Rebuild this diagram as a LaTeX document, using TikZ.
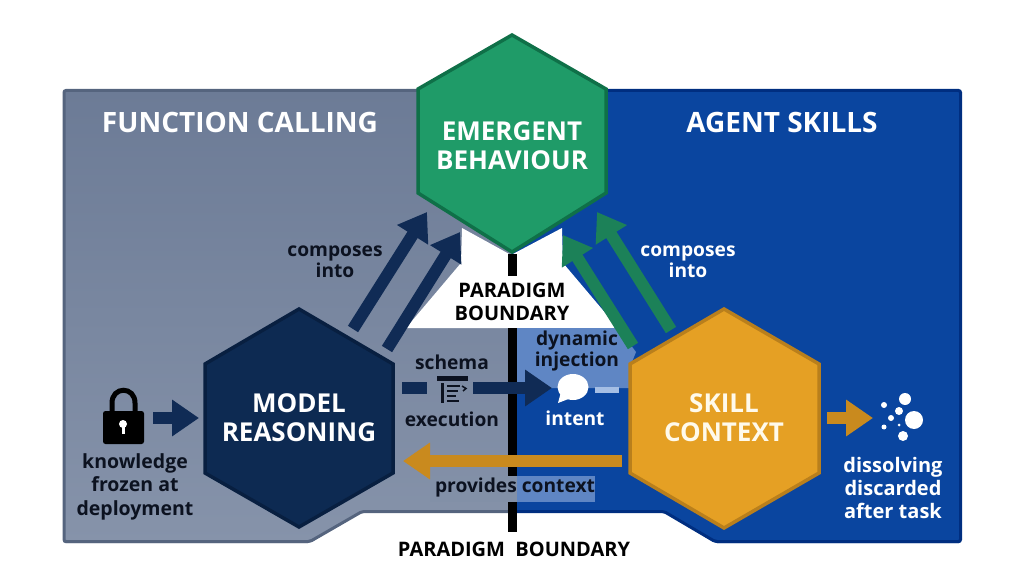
\documentclass[tikz,border=0pt]{standalone}
\usepackage{fontspec}
\setmainfont{Open Sans}
\usetikzlibrary{arrows.meta}
\definecolor{navy}{HTML}{102B55}
\definecolor{navyhex}{HTML}{0D2A52}
\definecolor{navyedge}{HTML}{081F40}
\definecolor{greytop}{HTML}{6C7B96}
\definecolor{greybot}{HTML}{8693AA}
\definecolor{greyback}{HTML}{8290A7}
\definecolor{greyedge}{HTML}{55647E}
\definecolor{bluefill}{HTML}{0A459F}
\definecolor{blueedge}{HTML}{002E80}
\definecolor{lightblue}{HTML}{5F86C4}
\definecolor{paleblue}{HTML}{A5BEE4}
\definecolor{greenfill}{HTML}{1F9B68}
\definecolor{greenedge}{HTML}{0F7048}
\definecolor{greenarrow}{HTML}{1C8158}
\definecolor{goldfill}{HTML}{E5A024}
\definecolor{goldedge}{HTML}{B97F1C}
\definecolor{goldarrow}{HTML}{C98A1E}
\definecolor{inkc}{HTML}{0C1220}
\definecolor{cream}{HTML}{FFFAEB}
\tikzset{
  flow/.style={line width=12pt,-{Triangle[width=35pt,length=27pt]}},
  lbl/.style={font=\bfseries\fontsize{19.2}{21}\selectfont,align=center,text=inkc,inner sep=0pt},
  lblw/.style={lbl,text=white},
  hextext/.style={font=\bfseries\fontsize{26}{28}\selectfont,align=center,text=white,inner sep=0pt},
  headtext/.style={font=\bfseries\fontsize{28}{30}\selectfont,text=white,inner sep=0pt},
  bound/.style={font=\bfseries\fontsize{20}{23}\selectfont,align=center,text=black,inner sep=0pt},
  hexedge/.style={line width=3.5pt,line join=miter},
}
\begin{document}
\begin{tikzpicture}[x=1pt,y=-1pt]
\useasboundingbox (0,0) rectangle (1024,572);
% panels
\path[top color=greytop,bottom color=greybot,rounded corners=2pt]
  (63,90) -- (512,90) -- (512,512) -- (362,512) -- (310,543) -- (63,543) -- cycle;
\draw[greyedge,line width=3pt,rounded corners=2pt] (512,90.5) -- (64,90.5) -- (64,541.5) -- (310,541.5) -- (362,511.5) -- (512,511.5);
\path[fill=bluefill,rounded corners=2pt] (512,90) -- (961,90) -- (961,543) -- (715,543) -- (664,512) -- (512,512) -- cycle;
\draw[blueedge,line width=3pt,rounded corners=2pt] (512,90.5) -- (960.5,90.5) -- (960.5,541.5) -- (715,541.5) -- (664,511.5) -- (512,511.5);
% white gap and highlighted regions
\fill[white] (462,228) -- (511,255) -- (562,228) -- (563,263) -- (618,328) -- (406,328) -- (461,263) -- cycle;
\fill[lightblue] (512,328) -- (618,328) -- (636,352) -- (632,362) -- (632,388) -- (512,388) -- cycle;
% boundary line
\coordinate (bt) at (512.5,254);
\coordinate (bm1) at (512.5,276);
\coordinate (bm2) at (512.5,328);
\coordinate (bb) at (512.5,532);
\draw[black,line width=9pt] (bt) -- (bm1);
\draw[black,line width=9pt] (bm2) -- (bb);
% provides-context backing
\fill[greyback] (430,476) rectangle (517,502);
\fill[lightblue] (517,476) rectangle (595,502);
% free ends of the connectors
\coordinate (lockout) at (153,418);
\coordinate (mrin) at (199,418);
\coordinate (ca1s) at (353,329);
\coordinate (ca1e) at (427,212);
\coordinate (ca2s) at (387,349);
\coordinate (ca2e) at (460,232);
\coordinate (cb1s) at (633,346);
\coordinate (cb1e) at (563,235);
\coordinate (cb2s) at (671,330);
\coordinate (cb2e) at (597,212);
\coordinate (sd1) at (402,388);
\coordinate (sd2) at (427,388);
\coordinate (sd3) at (473,388);
\coordinate (sd4) at (552,388);
\coordinate (dj1) at (595,390);
\coordinate (dj2) at (619,390);
\coordinate (pc1) at (622,461);
\coordinate (pc2) at (403,461);
\coordinate (dd1) at (827,418);
\coordinate (dd2) at (873,418);
% connectors
\draw[flow,navy] (lockout) -- (mrin);
\draw[flow,navy] (ca1s) -- (ca1e);
\draw[flow,navy] (ca2s) -- (ca2e);
\draw[flow,greenarrow] (cb1s) -- (cb1e);
\draw[flow,greenarrow] (cb2s) -- (cb2e);
\draw[navy,line width=12pt] (sd1) -- (sd2);
\draw[flow,navy] (sd3) -- (sd4);
\draw[paleblue,line width=6pt] (dj1) -- (dj2);
\draw[flow,goldarrow] (pc1) -- (pc2);
\draw[flow,goldarrow] (dd1) -- (dd2);
% hexagons
\filldraw[hexedge,fill=greenfill,draw=greenedge] (512,35) -- (606,89) -- (606,193) -- (512,252) -- (418,193) -- (418,89) -- cycle;
\filldraw[hexedge,fill=navyhex,draw=navyedge] (299,309) -- (393,364) -- (393,473) -- (299,527) -- (205,473) -- (205,364) -- cycle;
\filldraw[hexedge,fill=goldfill,draw=goldedge] (724,309) -- (819,364) -- (819,473) -- (724,528) -- (630,473) -- (630,364) -- cycle;
\node[hextext] (emerge) at (512,145.5) {EMERGENT\\[1pt]BEHAVIOUR};
\node[hextext] (model) at (299,417.5) {MODEL\\[1pt]REASONING};
\node[hextext,text=cream] (skill) at (724,417.5) {SKILL\\[1pt]CONTEXT};
% panel titles
\node[headtext] (fc) at (240,122) {FUNCTION CALLING};
\node[headtext] (as) at (782,122) {AGENT SKILLS};
% labels
\node[lbl] (compL) at (335,261.5) {composes\\into};
\node[lblw] (compR) at (688,261.5) {composes\\into};
\node[bound] (pb1) at (512,302) {PARADIGM\\BOUNDARY};
\node[bound] (pb2) at (514,549) {PARADIGM\ \ BOUNDARY};
\node[lbl] (schema) at (452,362) {schema};
\node[lbl] (exec) at (452,419) {execution};
\node[lbl] (dyn) at (577,351.5) {dynamic\\injection};
\node[lblw] (intent) at (575,418) {intent};
\node[lbl] (prov) at (515,488) {provides context};
\node[lbl,font=\bfseries\fontsize{19.5}{23.5}\selectfont] (know) at (135,486.5) {knowledge\\frozen at\\deployment};
\node[lblw,font=\bfseries\fontsize{20}{23}\selectfont] (diss) at (893,487.5) {dissolving\\discarded\\after task};
% lock icon
\draw[black,line width=5pt] (112,413) -- (112,403) .. controls (112,386) and (135,386) .. (135,403) -- (135,413);
\fill[black,rounded corners=2.5pt] (103,411) rectangle (144,444);
\fill[white] (123,424) circle[radius=4];
\fill[white] (121.5,425) rectangle (124.5,434);
% schema icon
\fill[inkc] (437,376) rectangle (468,381);
\fill[inkc] (441,383) rectangle (443.5,403);
\foreach \yy/\xx in {386/460,391/458,396/456,401/459}{\fill[inkc] (447,\yy-1) rectangle (\xx,\yy+1);}
\draw[inkc,line width=1.5pt] (462,386) -- (466,388.5) -- (463,391);
% speech bubble
\fill[white] (573,387) ellipse[x radius=15.5,y radius=13];
\fill[white] (561,392) -- (558,403) -- (571,398) -- cycle;
% dissolving dots
\foreach \cx/\cy/\rr in {905/399/6,899/411/4,884/405/3,891/418/3,914/420/9,899/425/1.5,884/427/2.5,903/436/5}{\fill[white] (\cx,\cy) circle[radius=\rr];}
\end{tikzpicture}
\end{document}
